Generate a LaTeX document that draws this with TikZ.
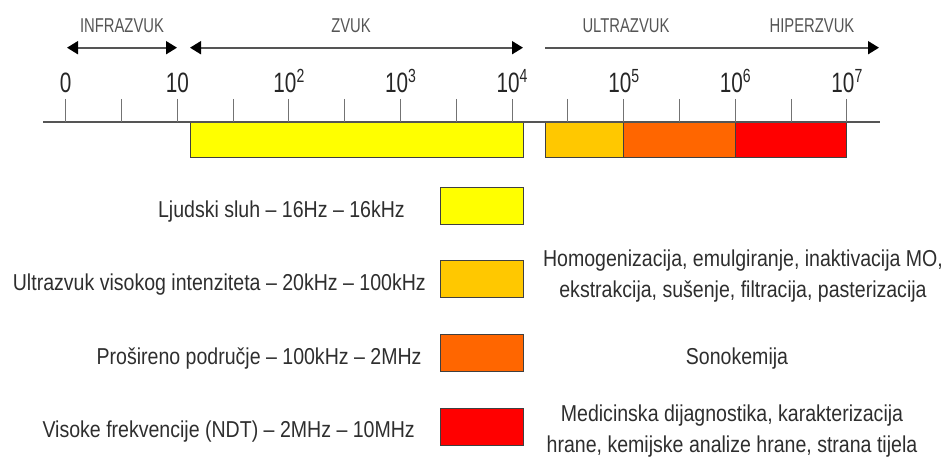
\documentclass[tikz,border=0pt]{standalone}
\usepackage{fontspec}
\setmainfont{Liberation Sans}
\newfontfamily\narrowfont[FakeStretch=0.74,Ligatures=TeX]{Liberation Sans}
\newfontfamily\legendfont[FakeStretch=0.85,Ligatures=TeX]{Liberation Sans}
\usetikzlibrary{arrows.meta}
\definecolor{sluhyellow}{HTML}{FFFF00}
\definecolor{hiugold}{HTML}{FFC800}
\definecolor{prosorange}{HTML}{FF6600}
\definecolor{ndtred}{HTML}{FF0000}
\definecolor{textgray}{HTML}{2E2E2E}
\definecolor{linegray}{HTML}{555555}
\newcommand{\dek}[1]{10\raisebox{10pt}{\fontsize{19}{19}\selectfont #1}}

\begin{document}
\begin{tikzpicture}[x=1pt,y=-1pt,
    >={Triangle[length=11pt,width=13pt,color=black]},
    spanline/.style={draw=linegray,line width=1.8pt},
    spanlbl/.style={font=\narrowfont\fontsize{20}{20}\selectfont,text=linegray,anchor=base,inner sep=0pt},
    decade/.style={font=\narrowfont\fontsize{28}{28}\selectfont,text=black!85,anchor=base,inner sep=0pt},
    band/.style={draw=black!75,line width=1pt},
    legbox/.style={draw=black!75,line width=1pt,minimum width=83pt,minimum height=37pt,inner sep=0pt},
    legtxt/.style={font=\legendfont\fontsize{23}{31}\selectfont,text=textgray,inner sep=0pt,align=center}]
  \useasboundingbox (0,0) rectangle (946,457);
  % spans on top
  \coordinate (infraL) at (67,47.7);
  \coordinate (infraR) at (177,47.7);
  \coordinate (zvukL) at (190,47.7);
  \coordinate (zvukR) at (523,47.7);
  \coordinate (ultraL) at (545,47.7);
  \coordinate (ultraR) at (879,47.7);
  \draw[spanline,<->] (infraL)--(infraR);
  \draw[spanline,<->] (zvukL)--(zvukR);
  \draw[spanline,->] (ultraL)--(ultraR);
  \node[spanlbl] (infra) at (122,33) {INFRAZVUK};
  \node[spanlbl] (zvuk) at (351,33) {ZVUK};
  \node[spanlbl] (ultra) at (626,33) {ULTRAZVUK};
  \node[spanlbl] (hiper) at (812,33) {HIPERZVUK};
  % frequency bands
  \draw[band,fill=sluhyellow] (190,122) rectangle (523,158);
  \draw[band,fill=hiugold] (545,122) rectangle (623,158);
  \draw[band,fill=prosorange] (623,122) rectangle (735,158);
  \draw[band,fill=ndtred] (735,122) rectangle (846,158);
  % axis
  \draw[line width=1.5pt,draw=linegray] (43,122)--(880,122);
  \foreach \k in {0,...,14}
    \draw[line width=1.1pt,draw=black!55] ({65.7+55.8*\k},99)--({65.7+55.8*\k},122);
  \node[decade] (d0) at (65.7,92.5) {0};
  \node[decade] (d1) at (177.3,92.5) {10};
  \node[decade] (d2) at (288.9,92.5) {\dek{2}};
  \node[decade] (d3) at (400.5,92.5) {\dek{3}};
  \node[decade] (d4) at (512.1,92.5) {\dek{4}};
  \node[decade] (d5) at (623.7,92.5) {\dek{5}};
  \node[decade] (d6) at (735.3,92.5) {\dek{6}};
  \node[decade] (d7) at (846.9,92.5) {\dek{7}};
  % legend
  \node[legbox,fill=sluhyellow] (sluh) at (481.6,205.8) {};
  \node[legbox,fill=hiugold] (hiu) at (481.6,279.5) {};
  \node[legbox,fill=prosorange] (pros) at (481.6,353.3) {};
  \node[legbox,fill=ndtred] (ndt) at (481.6,427.2) {};
  \node[legtxt,anchor=base east] (sluhtxt) at (405,218) {Ljudski sluh – 16Hz – 16kHz};
  \node[legtxt,anchor=base east] (hiutxt) at (426,291) {Ultrazvuk visokog intenziteta – 20kHz – 100kHz};
  \node[legtxt,anchor=base east] (prostxt) at (421.7,365) {Prošireno područje – 100kHz – 2MHz};
  \node[legtxt,anchor=base east] (ndttxt) at (415,437) {Visoke frekvencije (NDT) – 2MHz – 10MHz};
  \node[legtxt] (hiuuse) at (743,276) {Homogenizacija, emulgiranje, inaktivacija MO,\\ekstrakcija, sušenje, filtracija, pasterizacija};
  \node[legtxt,anchor=base] (prosuse) at (737,364) {Sonokemija};
  \node[legtxt] (ndtuse) at (732,431) {Medicinska dijagnostika, karakterizacija\\hrane, kemijske analize hrane, strana tijela};
\end{tikzpicture}
\end{document}
